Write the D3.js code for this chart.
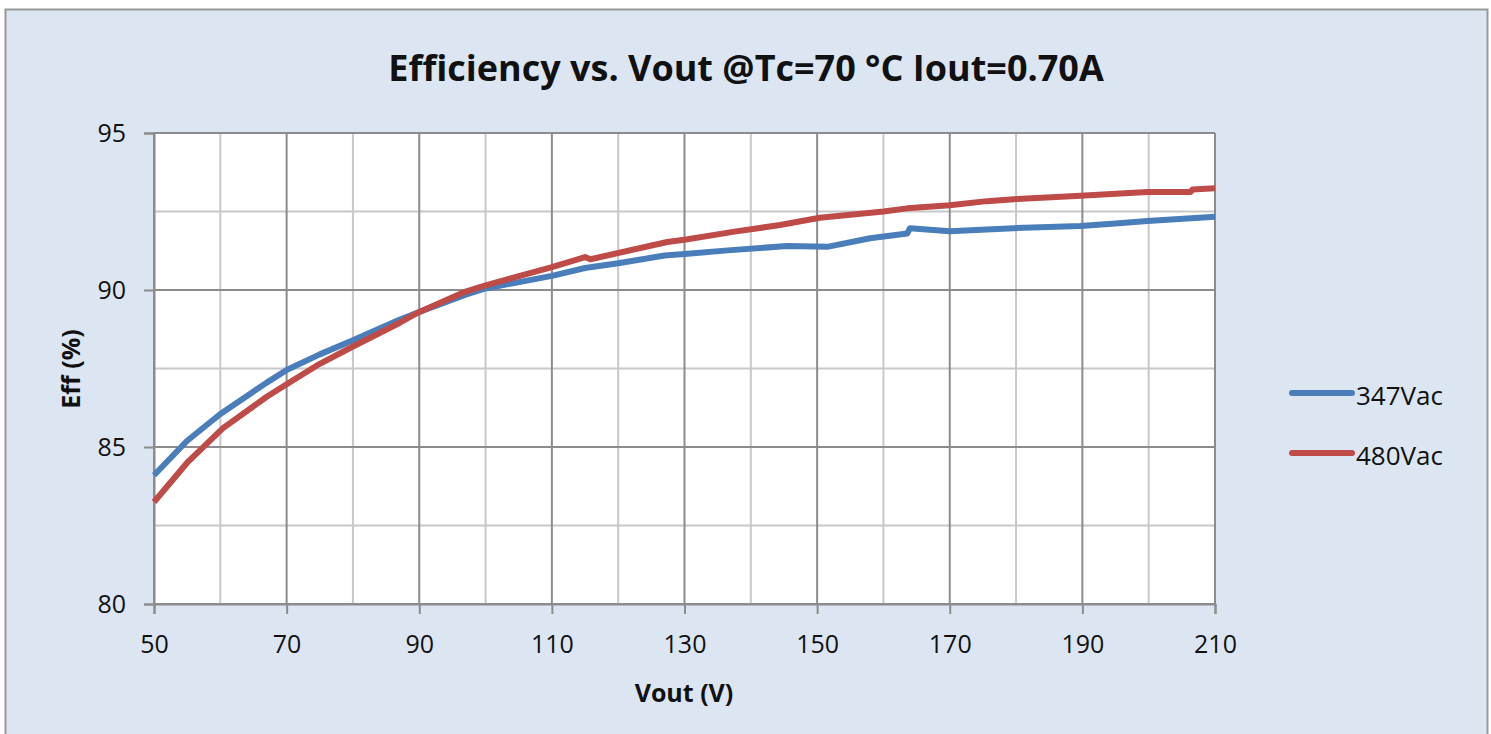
<!DOCTYPE html>
<html>
<head>
<meta charset="utf-8">
<script src="https://cdn.jsdelivr.net/npm/d3@7"></script>
<style>
  body { margin: 0; background: #fff; }
  text { font-family: "Open Sans", "DejaVu Sans", sans-serif; fill: #111; }
</style>
</head>
<body>
<div id="chart"></div>
<script>
// data
var xTicks = [50, 70, 90, 110, 130, 150, 170, 190, 210]
var yTicks = [80, 85, 90, 95]

var blue_x = [50, 55, 60, 67, 70, 75, 80, 87, 90, 97, 100, 110, 115, 120, 127, 130, 137, 145.5, 151.7, 158, 163.6, 164, 170, 179.6, 189.7, 195, 199.8, 210]
var blue_y = [84.1, 85.2, 86.05, 87.05, 87.45, 87.95, 88.4, 89.05, 89.3, 89.85, 90.05, 90.45, 90.7, 90.85, 91.1, 91.15, 91.27, 91.4, 91.38, 91.65, 91.8, 91.97, 91.87, 91.97, 92.04, 92.12, 92.2, 92.33]

var red_x = [50, 55, 60.4, 67, 70, 75, 80, 87, 90, 97, 100, 110, 115, 115.8, 127.4, 130, 137.3, 144.4, 150.4, 160, 163.6, 170, 175.6, 180.2, 189.7, 199.8, 206.3, 206.6, 210]
var red_y = [83.25, 84.5, 85.6, 86.6, 87.0, 87.65, 88.2, 88.95, 89.3, 89.95, 90.15, 90.73, 91.05, 90.98, 91.53, 91.6, 91.85, 92.07, 92.3, 92.5, 92.6, 92.7, 92.83, 92.9, 93.0, 93.12, 93.12, 93.2, 93.24]

var seriesNames = ['347Vac', '480Vac']
var seriesColors = ['#4a7ebb', '#be4b48']

var W = 1491, H = 734
var svg = d3.select('#chart').append('svg')
  .attr('width', W)
  .attr('height', H)

// chart background + frame
svg.append('rect')
  .attr('x', 5.5).attr('y', 9.5)
  .attr('width', 1482).attr('height', 740)
  .attr('fill', '#dce6f2')
  .attr('stroke', '#999').attr('stroke-width', 2)

var pLeft = 154, pRight = 1215, pTop = 133, pBottom = 604

var x = d3.scaleLinear().domain([50, 210]).range([pLeft, pRight])
var y = d3.scaleLinear().domain([80, 95]).range([pBottom, pTop])

// plot area
svg.append('rect')
  .attr('x', pLeft).attr('y', pTop)
  .attr('width', pRight - pLeft).attr('height', pBottom - pTop)
  .attr('fill', '#fff')

// minor grid
var g = svg.append('g')
g.selectAll('.vmin').data(d3.range(60, 210, 20)).enter().append('line')
  .attr('x1', d => x(d)).attr('x2', d => x(d))
  .attr('y1', pTop).attr('y2', pBottom)
  .attr('stroke', '#c8c8c8').attr('stroke-width', 2)
g.selectAll('.hmin').data([82.5, 87.5, 92.5]).enter().append('line')
  .attr('x1', pLeft).attr('x2', pRight)
  .attr('y1', d => y(d)).attr('y2', d => y(d))
  .attr('stroke', '#c8c8c8').attr('stroke-width', 2)

// major grid
g.selectAll('.vmaj').data(xTicks).enter().append('line')
  .attr('x1', d => x(d)).attr('x2', d => x(d))
  .attr('y1', pTop).attr('y2', pBottom)
  .attr('stroke', '#8c8c8c').attr('stroke-width', 2)
g.selectAll('.hmaj').data(yTicks).enter().append('line')
  .attr('x1', pLeft).attr('x2', pRight)
  .attr('y1', d => y(d)).attr('y2', d => y(d))
  .attr('stroke', '#8c8c8c').attr('stroke-width', 2)

// axes
var xAxis = svg.append('g')
  .attr('transform', 'translate(0,' + pBottom + ')')
  .call(d3.axisBottom(x).tickValues(xTicks).tickSize(10).tickPadding(21))
var yAxis = svg.append('g')
  .attr('transform', 'translate(' + pLeft + ',0)')
  .call(d3.axisLeft(y).tickValues(yTicks).tickSize(10).tickPadding(18))
;[xAxis, yAxis].forEach(function(a){
  a.select('.domain').attr('stroke', '#8c8c8c').attr('stroke-width', 2)
  a.selectAll('.tick line').attr('stroke', '#8c8c8c').attr('stroke-width', 2)
  a.selectAll('.tick text').attr('font-size', 25).attr('fill', '#111')
    .style('font-family', '"Open Sans", sans-serif')
})

// lines
var line = d3.line()
  .x(d => x(d[0]))
  .y(d => y(d[1]))

var series = [d3.zip(blue_x, blue_y), d3.zip(red_x, red_y)]
series.forEach(function(s, i){
  svg.append('path')
    .datum(s)
    .attr('d', line)
    .attr('fill', 'none')
    .attr('stroke', seriesColors[i])
    .attr('stroke-width', 6)
    .attr('stroke-linejoin', 'round')
})

// titles
svg.append('text')
  .attr('x', 746).attr('y', 81)
  .attr('text-anchor', 'middle')
  .attr('font-size', 36).attr('font-weight', 'bold')
  .text('Efficiency vs. Vout @Tc=70 °C Iout=0.70A')

svg.append('text')
  .attr('x', 684).attr('y', 702)
  .attr('text-anchor', 'middle')
  .attr('font-size', 25).attr('font-weight', 'bold')
  .text('Vout (V)')

svg.append('text')
  .attr('transform', 'translate(80,369) rotate(-90)')
  .attr('text-anchor', 'middle')
  .attr('font-size', 25).attr('font-weight', 'bold')
  .text('Eff (%)')

// legend
seriesNames.forEach(function(name, i){
  var ly = 393 + i * 60
  svg.append('line')
    .attr('x1', 1292).attr('x2', 1352)
    .attr('y1', ly).attr('y2', ly)
    .attr('stroke', seriesColors[i])
    .attr('stroke-width', 6)
    .attr('stroke-linecap', 'round')
  svg.append('text')
    .attr('x', 1356).attr('y', ly + 12)
    .attr('font-size', 26)
    .text(name)
})
</script>
</body>
</html>
